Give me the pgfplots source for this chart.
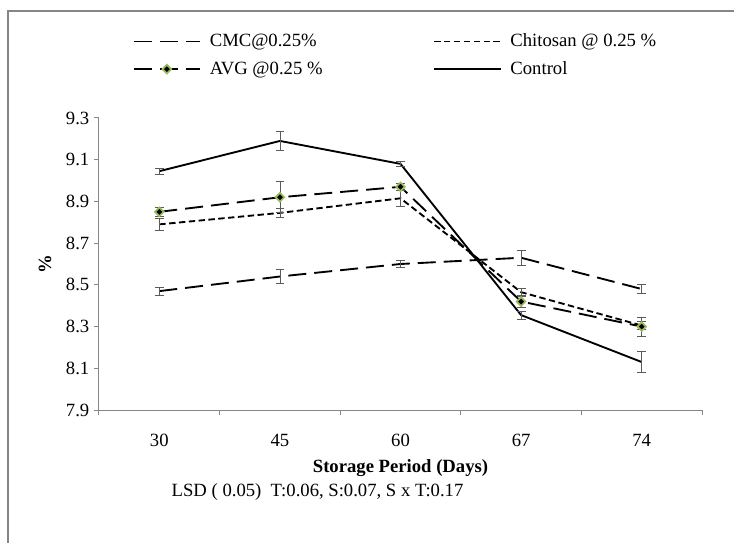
\documentclass[border=0pt]{standalone}
\usepackage{fontspec}
\setmainfont{Liberation Serif}
\usepackage{pgfplots}
\pgfplotsset{compat=1.18}
\definecolor{axgray}{RGB}{134,134,134}
\definecolor{avggreen}{RGB}{155,187,89}
\definecolor{errgray}{RGB}{90,90,90}

\begin{document}
\begin{tikzpicture}
\useasboundingbox (-74.25pt,-99pt) rectangle (476.25pt,307.5pt);
% outer chart frame (only left and top edges fall inside the page)
\draw[axgray, line width=1pt] (-68.25pt,-100pt) -- (-68.25pt,299.25pt) -- (477pt,299.25pt);
\begin{axis}[
    scale only axis,
    width=452.25pt, height=219pt,
    xmin=-0.5, xmax=4.5,
    ymin=7.9, ymax=9.3,
    axis x line*=bottom, axis y line*=left,
    axis line style={axgray, line width=0.75pt},
    xtick={0,1,2,3,4},
    xticklabels={30,45,60,67,74},
    minor xtick={-0.5,0.5,1.5,2.5,3.5,4.5},
    major x tick style={draw=none},
    ytick={7.9,8.1,8.3,8.5,8.7,8.9,9.1,9.3},
    tick align=outside,
    major tick length=3.75pt, minor tick length=3.75pt,
    tick style={axgray, line width=0.75pt},
    ticklabel style={font=\fontsize{14}{16}\selectfont},
    xticklabel style={yshift=-11pt},
    /pgf/number format/assume math mode=true,
    yticklabel style={/pgf/number format/.cd, fixed, fixed zerofill, precision=1},
    xlabel={Storage Period (Days)},
    xlabel style={at={(rel axis cs:0.5,0)}, anchor=center, yshift=-43.5pt,
        font=\bfseries\fontsize{14}{16}\selectfont},
    ylabel={\%},
    ylabel style={at={(rel axis cs:-0.0896,0.5)}, anchor=center,
        font=\bfseries\fontsize{14}{16}\selectfont},
    legend columns=2,
    legend image code/.code={\draw[mark repeat=2,mark phase=2,#1] plot coordinates {(0pt,0pt) (25pt,0pt) (50pt,0pt)};},
    legend style={draw=none, fill=none, at={(rel axis cs:0,1)}, anchor=west,
        xshift=25pt, yshift=47pt, inner sep=0pt, row sep=5.5pt,
        font=\fontsize{14}{16}\selectfont,
        /tikz/every odd column/.style={column sep=4.5pt},
        /tikz/column 2/.style={column sep=81pt}},
    legend cell align=left,
    error bars/y dir=both, error bars/y explicit,
    error bars/error bar style={solid, errgray, line width=0.6pt},
    error bars/error mark options={solid, errgray, line width=0.6pt, mark size=3.3pt, rotate=90},
]

% CMC @ 0.25 %
\addplot[black, line width=1.4pt, dash pattern=on 13.5pt off 6pt] coordinates {
    (0,8.47) +- (0,0.02)
    (1,8.54) +- (0,0.035)
    (2,8.60) +- (0,0.015)
    (3,8.63) +- (0,0.035)
    (4,8.48) +- (0,0.02)
};
\addlegendentry{CMC@0.25\%}

% Chitosan @ 0.25 %
\addplot[black, line width=1.4pt, dash pattern=on 4.8pt off 2.6pt] coordinates {
    (0,8.79) +- (0,0.03)
    (1,8.845) +- (0,0.02)
    (2,8.915) +- (0,0.04)
    (3,8.465) +- (0,0.02)
    (4,8.305) +- (0,0.02)
};
\addlegendentry{Chitosan @ 0.25 \%}

% AVG @ 0.25 %
\addplot[black, line width=1.4pt, dash pattern=on 13.5pt off 6pt,
    mark=square*, mark size=2.3pt,
    mark options={solid, rotate=45, fill=black, draw=avggreen, line width=1.3pt}] coordinates {
    (0,8.85) +- (0,0.02)
    (1,8.92) +- (0,0.075)
    (2,8.97) +- (0,0.015)
    (3,8.42) +- (0,0.03)
    (4,8.30) +- (0,0.045)
};
\addlegendentry{AVG @0.25 \%}

% Control
\addplot[black, line width=1.4pt] coordinates {
    (0,9.045) +- (0,0.015)
    (1,9.19) +- (0,0.045)
    (2,9.08) +- (0,0.012)
    (3,8.355) +- (0,0.02)
    (4,8.13) +- (0,0.05)
};
\addlegendentry{Control}

\end{axis}
\node[anchor=west, font=\fontsize{14}{16}\selectfont] at (51pt,-61.5pt)
    {LSD ( 0.05)\enspace T:0.06, S:0.07, S x T:0.17};
\end{tikzpicture}
\end{document}
